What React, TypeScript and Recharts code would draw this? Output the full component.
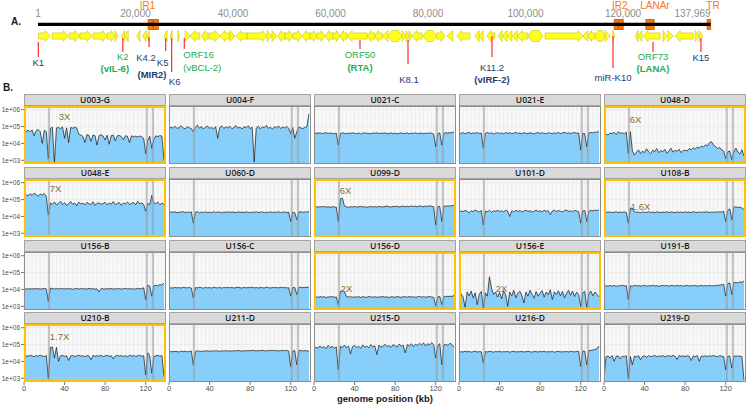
import React from 'react';
import {
  AreaChart, ComposedChart, Area, XAxis, YAxis, CartesianGrid,
  ReferenceArea, ReferenceLine, ReferenceDot,
} from 'recharts';

/* ======================= DATA ======================= */

// ---- Panel A: KSHV genome map (bp) ----
const GENOME_LENGTH = 137969;
const GENOME_TICKS = [1, 20000, 40000, 60000, 80000, 100000, 120000, 137969];
const GENOME_TICK_LABELS = ['1', '20,000', '40,000', '60,000', '80,000', '100,000', '120,000', '137,969'];

const REPEAT_BLOCKS = [
  [22600, 23650], [23650, 24700], [118200, 119100], [119100, 120050], [124700, 126400], [137250, 137969],
];
const REPEAT_NAMES = ['IR1', 'IR2', 'LANAr', 'TR'];
const REPEAT_LABEL_POS = [22460, 119320, 126560, 138460];

// genes: [start, end, strand]  ('+' forward, '-' reverse, '=' both)
const GENES = [
  [100, 2500, '+'], [2900, 6200, '+'], [6400, 8600, '+'], [8600, 11100, '+'], [11300, 14200, '+'],
  [14200, 15800, '+'], [15800, 16400, '+'], [17200, 17800, '-'], [17800, 18500, '-'], [20300, 20900, '-'],
  [21500, 22200, '-'], [22400, 22800, '-'], [25800, 26500, '-'], [27100, 27500, '-'], [28700, 29000, '+'],
  [30200, 31200, '+'], [31200, 33200, '-'], [33600, 34900, '-'], [35100, 37300, '+'], [37300, 39400, '-'],
  [39400, 40400, '+'], [40600, 42900, '-'], [42900, 47000, '+'], [47000, 48000, '+'], [48000, 49000, '+'],
  [49200, 50700, '-'], [50700, 52300, '+'], [52300, 54200, '+'], [54200, 55800, '-'], [55800, 57200, '+'],
  [57200, 58900, '+'], [58900, 60500, '-'], [60500, 61900, '+'], [61900, 63400, '-'], [63400, 67500, '-'],
  [67500, 69100, '-'], [69100, 70600, '-'], [70600, 71800, '-'], [71800, 74700, '='], [74700, 75500, '+'],
  [75500, 76100, '+'], [76100, 76700, '+'], [76700, 78800, '-'], [79000, 81800, '='], [81800, 83500, '+'],
  [83900, 85100, '-'], [85900, 88600, '-'], [89600, 90500, '-'], [90500, 91300, '-'], [92100, 93700, '-'],
  [94400, 95200, '-'], [95200, 96200, '-'], [96200, 97200, '-'], [97200, 98300, '-'], [98300, 100500, '-'],
  [100500, 103600, '='], [104000, 111800, '+'], [111800, 112800, '-'], [112800, 114300, '-'], [114300, 116300, '='],
  [116300, 117300, '+'], [117900, 118300, '+'], [122500, 123100, '-'], [123100, 123900, '-'], [124100, 127600, '-'],
  [128200, 129000, '+'], [129200, 130300, '+'], [130700, 134400, '-'], [134800, 135600, '+'], [135600, 136400, '+'],
];

const MARKER_NAMES = ['K1', 'K2', 'K4.2', 'K5', 'K6', 'ORF16', 'ORF50', 'K8.1', 'K11.2', 'miR-K10', 'ORF73', 'K15'];
const MARKER_POS = [60, 17400, 22770, 26190, 27420, 30010, 66050, 75900, 93130, 117950, 126150, 135990];
const MARKER_ALIAS = ['', '(vIL-6)', '(MIR2)', '', '', '(vBCL-2)', '(RTA)', '', '(vIRF-2)', '', '(LANA)', ''];
const MARKER_GROUP = ['K', 'ORF', 'K', 'K', 'K', 'ORF', 'ORF', 'K', 'K', 'K', 'ORF', 'K'];

// ---- Panel B: coverage (log10 read depth) along genome ----
const POSITIONS_KB = [
  0, 2, 4, 6, 8, 10, 12, 14, 16, 18, 20, 22, 24, 26, 28, 30, 32, 34, 36, 38,
  40, 42, 44, 46, 48, 50, 52, 54, 56, 58, 60, 62, 64, 66, 68, 70, 72, 74, 76, 78,
  80, 82, 84, 86, 88, 90, 92, 94, 96, 98, 100, 102, 104, 106, 108, 110, 112, 114, 116, 118,
  120, 122, 124, 126, 128, 130, 132, 134, 136, 138,
];
const GRID_KB = [0, 4, 8, 12, 16, 20, 24, 28, 32, 36, 40, 44, 48, 52, 56, 60, 64, 68, 72, 76, 80, 84, 88, 92, 96, 100, 104, 108, 112, 116, 120, 124, 128, 132, 136, 140];
const X_TICKS = [0, 40, 80, 120];
const X_TICK_LABELS = ['0', '40', '80', '120'];
const Y_TICKS = [3, 4, 5, 6];
const Y_TICK_LABELS = ['1e+03', '1e+04', '1e+05', '1e+06'];
const REPEAT_BANDS_KB = [[23.5, 25.7], [120, 122.2], [126, 128.2]];

const SAMPLES = [
  'U003-G', 'U004-F', 'U021-C', 'U021-E', 'U048-D',
  'U048-E', 'U060-D', 'U099-D', 'U101-D', 'U108-B',
  'U156-B', 'U156-C', 'U156-D', 'U156-E', 'U191-B',
  'U210-B', 'U211-D', 'U215-D', 'U216-D', 'U219-D',
];
const AMPLIFIED = ['U003-G', 'U048-D', 'U048-E', 'U099-D', 'U108-B', 'U156-D', 'U156-E', 'U210-B'];
const FOLD_SAMPLES = ['U003-G', 'U048-D', 'U048-E', 'U099-D', 'U108-B', 'U156-D', 'U156-E', 'U210-B'];
const FOLD_TEXT = ['3X', '6X', '7X', '6X', '1.6X', '2X', '2X', '1.7X'];
const FOLD_KB = [40, 31, 31, 31, 36, 32, 42, 35];
const FOLD_LOG = [5.6, 5.4, 5.67, 5.55, 4.6, 4.05, 4.05, 5.5];

const COV_U003_G = [
  4.30, 4.72, 4.78, 4.70, 4.80, 4.45, 4.76, 4.82, 4.70, 4.00,
  4.78, 4.70, 3.10, 4.90, 4.96, 2.85, 4.92, 4.95, 4.88, 4.98,
  4.30, 4.93, 4.05, 4.95, 4.90, 4.97, 4.92, 4.55, 4.50, 4.42,
  4.05, 4.52, 4.48, 4.12, 4.50, 4.46, 3.90, 4.47, 4.52, 4.44,
  4.20, 4.49, 3.95, 4.46, 4.50, 4.15, 4.45, 4.48, 4.40, 4.22,
  4.46, 4.42, 4.05, 4.45, 4.40, 4.43, 4.38, 4.44, 4.40, 4.30,
  3.40, 4.20, 4.42, 3.70, 4.25, 4.45, 4.40, 4.47, 4.42, 3.00,
];
const COV_U004_F = [
  4.85, 4.98, 4.90, 5.02, 4.88, 4.95, 5.05, 4.92, 4.86, 5.00,
  4.93, 4.88, 4.70, 4.96, 5.08, 4.90, 5.00, 4.85, 4.97, 5.03,
  4.90, 4.95, 4.86, 5.00, 4.30, 4.94, 5.04, 4.89, 4.98, 4.92,
  5.02, 4.87, 4.95, 5.06, 4.90, 4.97, 4.85, 5.00, 4.93, 5.05,
  4.88, 4.96, 2.90, 4.92, 5.02, 4.87, 4.98, 4.94, 5.07, 4.90,
  4.96, 4.85, 5.00, 4.93, 5.04, 4.89, 4.97, 4.92, 5.01, 4.90,
  4.60, 4.95, 4.30, 4.70, 4.98, 4.92, 4.88, 4.95, 5.00, 5.75,
];
const COV_U021_C = [
  4.55, 4.62, 4.60, 4.63, 4.58, 4.61, 4.64, 4.59, 4.62, 4.60,
  4.57, 4.61, 3.90, 4.58, 4.63, 4.60, 4.57, 4.62, 4.59, 4.64,
  4.60, 4.58, 4.62, 4.56, 4.61, 4.63, 4.59, 4.60, 4.57, 4.62,
  4.60, 4.64, 4.58, 4.61, 4.59, 4.63, 4.57, 4.60, 4.62, 4.58,
  4.61, 4.56, 4.60, 4.63, 4.58, 4.60, 4.62, 4.57, 4.61, 4.59,
  4.63, 4.58, 4.60, 4.62, 4.57, 4.61, 4.59, 4.63, 4.60, 4.55,
  3.80, 4.58, 4.62, 3.90, 4.60, 4.65, 4.60, 4.66, 4.62, 4.70,
];
const COV_U021_E = [
  4.50, 4.60, 4.64, 4.58, 4.62, 4.66, 4.57, 4.63, 4.60, 4.65,
  4.58, 4.62, 3.70, 4.60, 4.65, 4.59, 4.63, 4.56, 4.61, 4.64,
  4.58, 4.62, 4.57, 4.65, 4.60, 4.63, 4.58, 4.61, 4.66, 4.59,
  4.62, 4.57, 4.64, 4.60, 4.58, 4.63, 4.61, 4.56, 4.62, 4.65,
  4.59, 4.63, 4.60, 4.57, 4.64, 4.61, 4.58, 4.62, 4.60, 4.65,
  4.58, 4.62, 4.66, 4.60, 4.63, 4.59, 4.62, 4.65, 4.60, 4.62,
  3.60, 4.60, 4.58, 3.80, 4.62, 4.66, 4.62, 4.68, 4.65, 4.75,
];
const COV_U048_D = [
  4.40, 4.55, 4.50, 4.62, 4.58, 4.66, 4.52, 4.70, 4.60, 4.64,
  4.55, 4.68, 3.40, 4.70, 3.55, 3.30, 3.48, 3.62, 3.40, 3.55,
  3.45, 3.68, 3.50, 3.38, 3.60, 3.52, 3.70, 3.45, 3.58, 3.50,
  3.65, 3.42, 3.55, 3.72, 3.48, 3.60, 3.52, 3.66, 3.45, 3.58,
  3.60, 3.55, 3.70, 3.62, 3.75, 3.66, 3.80, 3.72, 3.85, 3.78,
  3.92, 3.85, 4.05, 4.10, 3.90, 3.82, 3.70, 3.76, 3.62, 3.55,
  3.10, 3.50, 3.55, 3.05, 3.50, 3.72, 3.48, 3.38, 3.62, 3.25,
];
const COV_U048_E = [
  5.15, 5.28, 5.22, 5.35, 5.25, 5.38, 5.30, 5.20, 5.33, 5.27,
  5.36, 5.18, 4.10, 4.80, 4.72, 4.85, 4.68, 4.78, 4.90, 4.70,
  4.82, 4.65, 4.76, 4.88, 4.72, 4.80, 4.62, 4.85, 4.74, 4.79,
  4.68, 4.83, 4.75, 4.70, 4.87, 4.66, 4.78, 4.81, 4.72, 4.76,
  4.84, 4.69, 4.79, 4.73, 4.88, 4.70, 4.77, 4.82, 4.65, 4.80,
  4.74, 4.86, 4.71, 4.78, 4.83, 4.68, 4.90, 4.75, 4.80, 4.72,
  4.30, 4.78, 4.70, 5.25, 4.82, 4.75, 4.85, 4.70, 4.78, 4.72,
];
const COV_U060_D = [
  4.20, 4.27, 4.24, 4.28, 4.22, 4.26, 4.25, 4.29, 4.23, 4.26,
  4.24, 4.27, 3.60, 4.25, 4.28, 4.22, 4.26, 4.24, 4.27, 4.23,
  4.26, 4.22, 4.28, 4.24, 4.25, 4.27, 4.21, 4.26, 4.24, 4.28,
  4.23, 4.26, 4.25, 4.22, 4.28, 4.24, 4.26, 4.23, 4.27, 4.25,
  4.22, 4.26, 4.24, 4.28, 4.23, 4.25, 4.27, 4.22, 4.26, 4.24,
  4.27, 4.23, 4.26, 4.24, 4.28, 4.22, 4.25, 4.27, 4.23, 4.26,
  3.70, 4.25, 4.22, 3.80, 4.26, 4.28, 4.24, 4.27, 4.25, 4.30,
];
const COV_U099_D = [
  4.52, 4.57, 4.55, 4.58, 4.56, 4.59, 4.55, 4.57, 4.54, 4.58,
  4.56, 4.55, 3.70, 5.05, 5.08, 4.62, 4.57, 4.54, 4.58, 4.56,
  4.59, 4.55, 4.57, 4.60, 4.56, 4.58, 4.54, 4.57, 4.59, 4.56,
  4.58, 4.55, 4.60, 4.57, 4.56, 4.59, 4.62, 4.57, 4.55, 4.60,
  4.58, 4.61, 4.56, 4.59, 4.62, 4.57, 4.60, 4.58, 4.62, 4.59,
  4.61, 4.57, 4.63, 4.60, 4.58, 4.62, 4.59, 4.64, 4.60, 4.58,
  3.50, 4.58, 4.60, 3.70, 4.62, 4.60, 4.63, 4.61, 4.64, 4.66,
];
const COV_U101_D = [
  4.25, 4.33, 4.28, 4.36, 4.30, 4.22, 4.34, 4.29, 4.38, 4.31,
  4.27, 4.35, 3.50, 4.32, 4.28, 4.37, 4.25, 4.33, 4.30, 4.36,
  4.29, 4.34, 4.26, 4.38, 4.31, 4.00, 4.33, 4.28, 4.36, 4.30,
  4.35, 4.27, 4.32, 4.38, 4.29, 4.34, 4.26, 4.31, 4.37, 4.30,
  4.33, 4.28, 4.36, 4.30, 4.34, 4.10, 4.32, 4.37, 4.29, 4.35,
  4.31, 4.27, 4.34, 4.38, 4.30, 4.33, 4.28, 4.36, 4.32, 4.29,
  3.60, 4.32, 4.35, 3.70, 4.30, 4.36, 4.33, 4.38, 4.34, 4.40,
];
const COV_U108_B = [
  4.20, 4.26, 4.24, 4.27, 4.22, 4.25, 4.28, 4.23, 4.26, 4.24,
  4.27, 4.23, 3.60, 4.50, 4.48, 4.28, 4.24, 4.26, 4.22, 4.27,
  4.25, 4.23, 4.28, 4.24, 4.26, 4.22, 4.27, 4.25, 4.23, 4.26,
  4.24, 4.28, 4.23, 4.26, 4.25, 4.22, 4.27, 4.24, 4.26, 4.23,
  4.27, 4.24, 4.26, 4.22, 4.28, 4.25, 4.23, 4.27, 4.24, 4.26,
  4.25, 4.28, 4.23, 4.26, 4.24, 4.27, 4.25, 4.28, 4.26, 4.30,
  3.70, 4.35, 4.45, 3.80, 4.55, 4.58, 4.52, 4.56, 4.50, 4.40,
];
const COV_U156_B = [
  3.98, 4.04, 4.02, 4.05, 4.01, 4.06, 4.03, 4.05, 4.02, 4.04,
  4.06, 4.03, 3.30, 4.08, 4.05, 4.02, 4.06, 4.03, 4.05, 4.04,
  4.02, 4.06, 4.03, 4.05, 4.01, 4.04, 4.06, 4.02, 4.05, 4.03,
  4.04, 4.02, 4.06, 4.03, 4.05, 4.01, 4.04, 3.85, 4.05, 4.03,
  4.02, 4.05, 4.03, 4.06, 4.02, 4.04, 4.03, 4.05, 4.02, 4.04,
  4.06, 4.03, 4.05, 4.02, 4.04, 4.03, 4.06, 4.04, 4.05, 4.10,
  3.40, 4.25, 4.20, 3.60, 4.22, 4.25, 4.20, 4.30, 4.25, 4.38,
];
const COV_U156_C = [
  4.05, 4.10, 4.08, 4.12, 4.09, 4.11, 4.08, 4.13, 4.10, 4.09,
  4.12, 4.08, 3.50, 4.11, 4.09, 4.13, 4.10, 4.08, 4.12, 4.09,
  4.11, 4.08, 4.13, 4.10, 4.09, 4.12, 4.08, 4.11, 4.10, 4.13,
  4.09, 4.12, 4.08, 4.11, 4.13, 4.10, 4.08, 4.12, 4.09, 4.11,
  4.10, 4.13, 4.09, 4.11, 4.08, 4.12, 4.10, 4.09, 4.13, 4.11,
  4.08, 4.12, 4.10, 4.11, 4.09, 4.13, 4.10, 4.12, 4.09, 4.10,
  3.60, 4.10, 4.12, 3.70, 4.11, 4.14, 4.10, 4.13, 4.11, 4.15,
];
const COV_U156_D = [
  3.50, 3.56, 3.53, 3.58, 3.54, 3.57, 3.52, 3.56, 3.55, 3.58,
  3.53, 3.56, 3.10, 3.88, 3.92, 3.86, 3.58, 3.55, 3.57, 3.53,
  3.56, 3.54, 3.58, 3.52, 3.57, 3.55, 3.53, 3.58, 3.56, 3.54,
  3.57, 3.53, 3.56, 3.55, 3.58, 3.54, 3.56, 3.52, 3.57, 3.55,
  3.54, 3.58, 3.55, 3.53, 3.57, 3.56, 3.54, 3.58, 3.55, 3.57,
  3.53, 3.56, 3.58, 3.55, 3.57, 3.54, 3.56, 3.58, 3.55, 3.53,
  3.05, 3.55, 3.58, 3.10, 3.56, 3.60, 3.57, 3.60, 3.58, 3.65,
];
const COV_U156_E = [
  3.40, 3.75, 3.55, 2.95, 3.85, 3.62, 3.90, 3.50, 3.80, 3.10,
  3.72, 3.88, 2.90, 3.80, 3.60, 4.75, 4.10, 3.70, 3.85, 3.55,
  3.82, 3.45, 3.92, 3.70, 3.00, 3.85, 3.62, 3.95, 3.50, 3.78,
  3.90, 3.65, 3.20, 3.85, 3.60, 3.95, 3.72, 3.48, 3.88, 3.60,
  3.80, 3.92, 3.55, 3.85, 3.68, 3.98, 3.40, 3.86, 3.70, 3.92,
  3.62, 3.88, 3.50, 3.78, 3.95, 3.65, 3.90, 3.58, 3.84, 3.70,
  3.00, 3.80, 3.88, 2.95, 3.75, 3.90, 3.62, 3.85, 3.72, 3.55,
];
const COV_U191_B = [
  4.15, 4.22, 4.19, 4.23, 4.20, 4.24, 4.18, 4.22, 4.21, 4.25,
  4.20, 4.23, 3.40, 4.22, 4.19, 4.24, 4.21, 4.23, 4.20, 4.22,
  4.24, 4.19, 4.22, 4.21, 4.25, 4.20, 4.23, 4.18, 4.22, 4.24,
  4.21, 4.23, 4.19, 4.24, 4.22, 4.20, 4.25, 4.21, 4.23, 4.19,
  4.22, 4.24, 4.20, 4.23, 4.21, 4.25, 4.19, 4.22, 4.24, 4.21,
  4.23, 4.20, 4.24, 4.22, 4.21, 4.25, 4.23, 4.26, 4.28, 4.30,
  3.60, 4.35, 4.38, 3.70, 4.40, 4.42, 4.38, 4.45, 4.42, 4.50,
];
const COV_U210_B = [
  3.70, 4.34, 4.30, 4.36, 4.33, 4.28, 4.35, 4.31, 4.37, 4.32,
  4.29, 4.35, 3.00, 4.82, 4.86, 4.20, 4.84, 4.00, 4.33, 4.36,
  4.30, 4.34, 4.05, 4.32, 4.36, 4.29, 4.33, 4.37, 4.31, 4.34,
  4.28, 4.35, 4.32, 4.10, 4.36, 4.30, 4.34, 4.31, 4.37, 4.29,
  4.33, 4.36, 4.30, 4.34, 4.15, 4.32, 4.37, 4.31, 4.35, 4.30,
  4.34, 4.28, 4.36, 4.32, 4.35, 4.30, 4.33, 4.36, 4.31, 4.34,
  3.20, 4.52, 4.32, 3.30, 4.30, 4.33, 4.36, 4.31, 4.34, 3.10,
];
const COV_U211_D = [
  4.55, 4.59, 4.57, 4.60, 4.58, 4.56, 4.61, 4.58, 4.60, 4.57,
  4.59, 4.62, 3.80, 4.58, 4.63, 4.60, 4.59, 4.62, 4.61, 4.63,
  4.60, 4.62, 4.61, 4.64, 4.62, 4.60, 4.63, 4.61, 4.64, 4.62,
  4.63, 4.61, 4.64, 4.62, 4.65, 4.63, 4.61, 4.64, 4.62, 4.65,
  4.63, 4.66, 4.64, 4.62, 4.65, 4.63, 4.66, 4.64, 4.62, 4.65,
  4.64, 4.66, 4.63, 4.65, 4.62, 4.64, 4.66, 4.63, 4.65, 4.62,
  3.70, 4.62, 4.64, 3.80, 4.63, 4.65, 4.62, 4.64, 4.63, 4.60,
];
const COV_U215_D = [
  4.70, 4.85, 4.78, 4.92, 4.80, 4.88, 4.75, 4.95, 4.82, 4.90,
  4.78, 4.86, 3.50, 4.90, 4.83, 4.97, 4.80, 4.92, 4.45, 4.88,
  4.95, 4.82, 4.90, 4.78, 4.98, 4.85, 4.92, 4.80, 5.00, 4.87,
  4.93, 4.40, 4.97, 4.85, 4.90, 5.02, 4.88, 4.95, 4.83, 5.00,
  4.92, 4.86, 5.03, 4.90, 4.96, 4.50, 5.00, 4.93, 5.05, 4.88,
  5.02, 4.95, 5.08, 4.97, 5.10, 4.92, 5.05, 4.98, 5.12, 5.00,
  4.20, 4.95, 5.05, 3.80, 4.98, 5.02, 4.95, 5.08, 5.00, 4.85,
];
const COV_U216_D = [
  4.52, 4.58, 4.56, 4.60, 4.57, 4.59, 4.55, 4.58, 4.60, 4.56,
  4.58, 4.57, 3.90, 4.59, 4.56, 4.60, 4.58, 4.55, 4.59, 4.57,
  4.60, 4.56, 4.58, 4.57, 4.59, 4.55, 4.58, 4.60, 4.56, 4.58,
  4.57, 4.59, 4.56, 4.58, 4.60, 4.57, 4.55, 4.59, 4.58, 4.56,
  4.59, 4.57, 4.60, 4.56, 4.58, 4.57, 4.59, 4.55, 4.58, 4.60,
  4.56, 4.58, 4.57, 4.59, 4.56, 4.60, 4.58, 4.57, 4.59, 4.60,
  3.70, 4.62, 4.60, 3.80, 4.64, 4.66, 4.68, 4.70, 4.75, 4.92,
];
const COV_U219_D = [
  3.00, 4.28, 4.32, 4.20, 4.35, 4.00, 4.30, 4.33, 4.15, 4.31,
  4.28, 4.34, 3.00, 4.30, 3.80, 4.32, 4.27, 4.35, 4.10, 4.30,
  4.33, 4.25, 4.34, 4.29, 4.31, 4.36, 4.28, 4.33, 4.30, 4.35,
  4.27, 4.32, 4.34, 4.29, 4.36, 4.31, 4.12, 4.35, 4.30, 4.33,
  4.29, 4.34, 4.31, 4.05, 4.33, 4.28, 4.35, 4.00, 4.32, 4.30,
  4.34, 4.29, 4.33, 4.31, 4.35, 4.30, 4.28, 4.34, 4.31, 4.29,
  3.50, 4.30, 4.32, 3.60, 4.30, 4.33, 4.31, 4.32, 4.28, 2.90,
];

const COVERAGE = [
  COV_U003_G, COV_U004_F, COV_U021_C, COV_U021_E, COV_U048_D,
  COV_U048_E, COV_U060_D, COV_U099_D, COV_U101_D, COV_U108_B,
  COV_U156_B, COV_U156_C, COV_U156_D, COV_U156_E, COV_U191_B,
  COV_U210_B, COV_U211_D, COV_U215_D, COV_U216_D, COV_U219_D,
];

/* ======================= LAYOUT / STYLE ======================= */

const FONT = '"Liberation Sans", Arial, sans-serif';
const STRIP_FONT = '"Open Sans", "Liberation Sans", sans-serif';
const NAVY = '#1f3a73';
const GREEN = '#22ad4b';
const REPEAT_ORANGE = '#f07a21';
const GROUP_COLOR = { K: NAVY, ORF: GREEN };
const ALIAS_BOLD = { '(vIL-6)': true, '(MIR2)': true, '(RTA)': true, '(vIRF-2)': true, '(LANA)': true, '(vBCL-2)': false };

// marker layout in map pixel rows: [lineTop, lineBottom, nameY, aliasY, nameDx, aliasDx, anchor]
const MARKER_LAYOUT = {
  'K1': [42, 57, 62.5, 0, 0, 0, 'center'],
  'K2': [38, 52, 57, 69, 0, -8, 'center'],
  'K4.2': [37, 47, 58, 75, -3, 3, 'center'],
  'K5': [38, 51, 63, 0, -3, 0, 'center'],
  'K6': [38, 72, 82, 0, 3, 0, 'center'],
  'ORF16': [38, 49, 55, 68, -1, -1, 'right'],
  'ORF50': [40, 49, 55, 68, 0, 0, 'center'],
  'K8.1': [40, 64, 80, 0, 1, 0, 'center'],
  'K11.2': [36, 57, 68, 80, 0, 0, 'center'],
  'miR-K10': [36, 68, 78, 0, 0, 0, 'center'],
  'ORF73': [42, 52, 57, 69, 0, 0, 'center'],
  'K15': [38, 52, 58, 0, 0, 0, 'center'],
};

const COL_X = [24, 169, 314, 459, 604];
const ROW_Y = [94, 167, 240, 312];
const PW = 142;
const STRIP_H = 12;
const PH = 58;
const PAD = 6; // room for the "0" tick label of inner columns
const Y_DOMAIN = [2.78, 6.22];

/* ======================= COMPONENTS ======================= */

function geneShape(strand: string) {
  return (p: any) => {
    const x = p.x, y = p.y, w = p.width, h = p.height;
    const head = w < 6 ? w : Math.min(5, w * 0.5);
    const b1 = y + h * 0.22, b2 = y + h * 0.78, mid = y + h / 2;
    let pts: number[][];
    if (strand === '+') {
      pts = [[x, b1], [x + w - head, b1], [x + w - head, y], [x + w, mid], [x + w - head, y + h], [x + w - head, b2], [x, b2]];
    } else if (strand === '-') {
      pts = [[x + w, b1], [x + head, b1], [x + head, y], [x, mid], [x + head, y + h], [x + head, b2], [x + w, b2]];
    } else {
      const hh = Math.min(4, w * 0.3);
      pts = [[x, mid], [x + hh, y], [x + w - hh, y], [x + w, mid], [x + w - hh, y + h], [x + hh, y + h]];
    }
    return (
      <polygon
        points={pts.map((q) => q.join(',')).join(' ')}
        fill="#ffff1e"
        stroke="#c9c400"
        strokeWidth={0.6}
      />
    );
  };
}

function textDot(key: string, x: number, y: number, value: string, opts: any) {
  return (
    <ReferenceDot
      key={key}
      x={x}
      y={y}
      r={0}
      fill="none"
      stroke="none"
      ifOverflow="visible"
      label={{
        value, position: opts.position || 'center', offset: 0, dx: opts.dx || 0, fill: opts.fill,
        fontSize: opts.fontSize || 9.5, fontWeight: opts.fontWeight || 'normal', fontFamily: FONT,
      }}
    />
  );
}

function GenomeMap() {
  return (
    <ComposedChart width={750} height={90} margin={{ top: 0, right: 39.4, bottom: 0, left: 38 }} data={[{ x: 1, y: 0 }]}>
      <XAxis type="number" dataKey="x" domain={[1, GENOME_LENGTH]} hide allowDataOverflow />
      <YAxis type="number" dataKey="y" domain={[0, 90]} reversed hide allowDataOverflow />
      {GENOME_TICKS.map((t, i) =>
        textDot('gt' + i, t, 13, GENOME_TICK_LABELS[i], {
          fill: '#8c8c8c', fontSize: 10, position: i === GENOME_TICKS.length - 1 ? 'left' : 'center',
        })
      )}
      {REPEAT_NAMES.map((n, i) => textDot('rn' + i, REPEAT_LABEL_POS[i], 5.5, n, { fill: REPEAT_ORANGE, fontSize: 10 }))}
      <ReferenceLine segment={[{ x: 1, y: 24.4 }, { x: GENOME_LENGTH, y: 24.4 }]} stroke="#000" strokeWidth={3.2} ifOverflow="visible" />
      {GENES.map((g, i) => (
        <ReferenceArea key={'g' + i} x1={g[0] as number} x2={g[1] as number} y1={30.5} y2={41.5} ifOverflow="visible" shape={geneShape(g[2] as string)} />
      ))}
      {REPEAT_BLOCKS.map((b, i) => (
        <ReferenceArea key={'rb' + i} x1={b[0]} x2={b[1]} y1={19.5} y2={29.5} fill="#f47a14" fillOpacity={1} stroke="#b95300" strokeWidth={0.8} ifOverflow="visible" />
      ))}
      {MARKER_NAMES.map((m, i) => {
        const L = MARKER_LAYOUT[m];
        return (
          <ReferenceLine key={'ml' + i} segment={[{ x: MARKER_POS[i], y: L[0] }, { x: MARKER_POS[i], y: L[1] }]} stroke="#ff2b2b" strokeWidth={1.2} ifOverflow="visible" />
        );
      })}
      {MARKER_NAMES.map((m, i) => {
        const L = MARKER_LAYOUT[m];
        return textDot('mn' + i, MARKER_POS[i], L[2], m, { fill: GROUP_COLOR[MARKER_GROUP[i]], dx: L[4], position: L[6] });
      })}
      {MARKER_NAMES.map((m, i) => {
        const L = MARKER_LAYOUT[m];
        return MARKER_ALIAS[i]
          ? textDot('ma' + i, MARKER_POS[i], L[3], MARKER_ALIAS[i], {
              fill: GROUP_COLOR[MARKER_GROUP[i]], fontWeight: ALIAS_BOLD[MARKER_ALIAS[i]] ? 'bold' : 'normal',
              dx: L[5], position: L[6],
            })
          : null;
      })}
    </ComposedChart>
  );
}

const XTick = (props: any) => {
  const { x, y, payload } = props;
  const idx = X_TICKS.indexOf(payload.value);
  if (idx < 0) return <g />;
  return (
    <g>
      <line x1={x} x2={x} y1={y - 4} y2={y - 1} stroke="#555" strokeWidth={0.8} />
      <text x={x} y={y} dy="0.72em" textAnchor="middle" fontSize={7.5} fill="#4d4d4d" fontFamily={FONT}>
        {X_TICK_LABELS[idx]}
      </text>
    </g>
  );
};

function Panel({ idx }: { idx: number }) {
  const row = Math.floor(idx / 5);
  const col = idx % 5;
  const sample = SAMPLES[idx];
  const values = COVERAGE[idx];
  const data = POSITIONS_KB.map((kb, i) => ({ kb, cov: values[i] }));
  const x0 = COL_X[col];
  const y0 = ROW_Y[row];
  const showY = col === 0;
  const showX = row === 3;
  const leftPad = showY ? 0 : PAD;
  const chartLeft = showY ? 0 : x0 - PAD;
  const chartW = showY ? x0 + PW : PW + PAD;
  const chartH = PH + (showX ? 16 : 0);
  const hl = AMPLIFIED.includes(sample);
  const fi = FOLD_SAMPLES.indexOf(sample);
  return (
    <>
      <div
        style={{
          position: 'absolute', left: x0, top: y0, width: PW, height: STRIP_H, boxSizing: 'border-box',
          background: '#d9d9d9', border: '1px solid #a3a3a3', textAlign: 'center', fontFamily: STRIP_FONT,
          fontWeight: 600, fontSize: 8.5, lineHeight: `${STRIP_H - 2}px`, color: '#1a1a1a',
        }}
      >
        {sample}
      </div>
      <div style={{ position: 'absolute', left: chartLeft, top: y0 + STRIP_H }}>
        <AreaChart width={chartW} height={chartH} data={data} margin={{ top: 0, right: 0, bottom: 0, left: leftPad }}>
          <CartesianGrid stroke="#e3e3e3" strokeWidth={0.5} fill="#f8f8f8" />
          <XAxis
            dataKey="kb" type="number" domain={[0, 140]} ticks={GRID_KB} interval={0} hide={!showX} height={16}
            tickLine={false} axisLine={false} tickSize={3} tickMargin={1} tick={<XTick />} allowDataOverflow
          />
          <YAxis
            type="number" domain={Y_DOMAIN} ticks={Y_TICKS} interval={0} hide={!showY} width={x0}
            tickSize={3} tickMargin={1} axisLine={false} tickLine={{ stroke: '#555', strokeWidth: 0.8 }}
            tick={{ fontSize: 6.5, fill: '#4d4d4d', fontFamily: FONT }}
            tickFormatter={(v: number) => Y_TICK_LABELS[Y_TICKS.indexOf(v)]} allowDataOverflow
          />
          <Area
            type="linear" dataKey="cov" stroke="#151515" strokeWidth={0.7} fill="#87cefa" fillOpacity={1}
            isAnimationActive={false} dot={false} activeDot={false}
          />
          {REPEAT_BANDS_KB.map((b, i) => (
            <ReferenceArea key={'b' + i} x1={b[0]} x2={b[1]} fill="#9a9a9a" fillOpacity={0.55} stroke="none" />
          ))}
          {fi >= 0 ? textDot('fold', FOLD_KB[fi], FOLD_LOG[fi], FOLD_TEXT[fi], { fill: '#8b6d2f', fontSize: 9.5 }) : null}
        </AreaChart>
      </div>
      <div
        style={{
          position: 'absolute', left: x0, top: y0 + STRIP_H, width: PW, height: PH, boxSizing: 'border-box',
          border: hl ? '2.3px solid #ffc000' : '1px solid #8c8c8c', pointerEvents: 'none',
        }}
      />
    </>
  );
}

export default function App() {
  return (
    <div style={{ position: 'absolute', left: 0, top: 0, width: 750, height: 405, background: '#fff', overflow: 'hidden', fontFamily: FONT }}>
      <div style={{ position: 'absolute', left: 0, top: 0 }}>
        <GenomeMap />
      </div>
      <div style={{ position: 'absolute', left: 11, top: 16, fontSize: 10, fontWeight: 'bold', color: '#1a1a1a' }}>A.</div>
      <div style={{ position: 'absolute', left: 3, top: 82, fontSize: 10, fontWeight: 'bold', color: '#1a1a1a' }}>B.</div>
      {SAMPLES.map((s, i) => (
        <Panel key={s} idx={i} />
      ))}
      <div style={{ position: 'absolute', left: 285, width: 200, top: 393, textAlign: 'center', fontSize: 9.5, fontWeight: 'bold', color: '#1a1a1a' }}>
        genome position (kb)
      </div>
    </div>
  );
}
